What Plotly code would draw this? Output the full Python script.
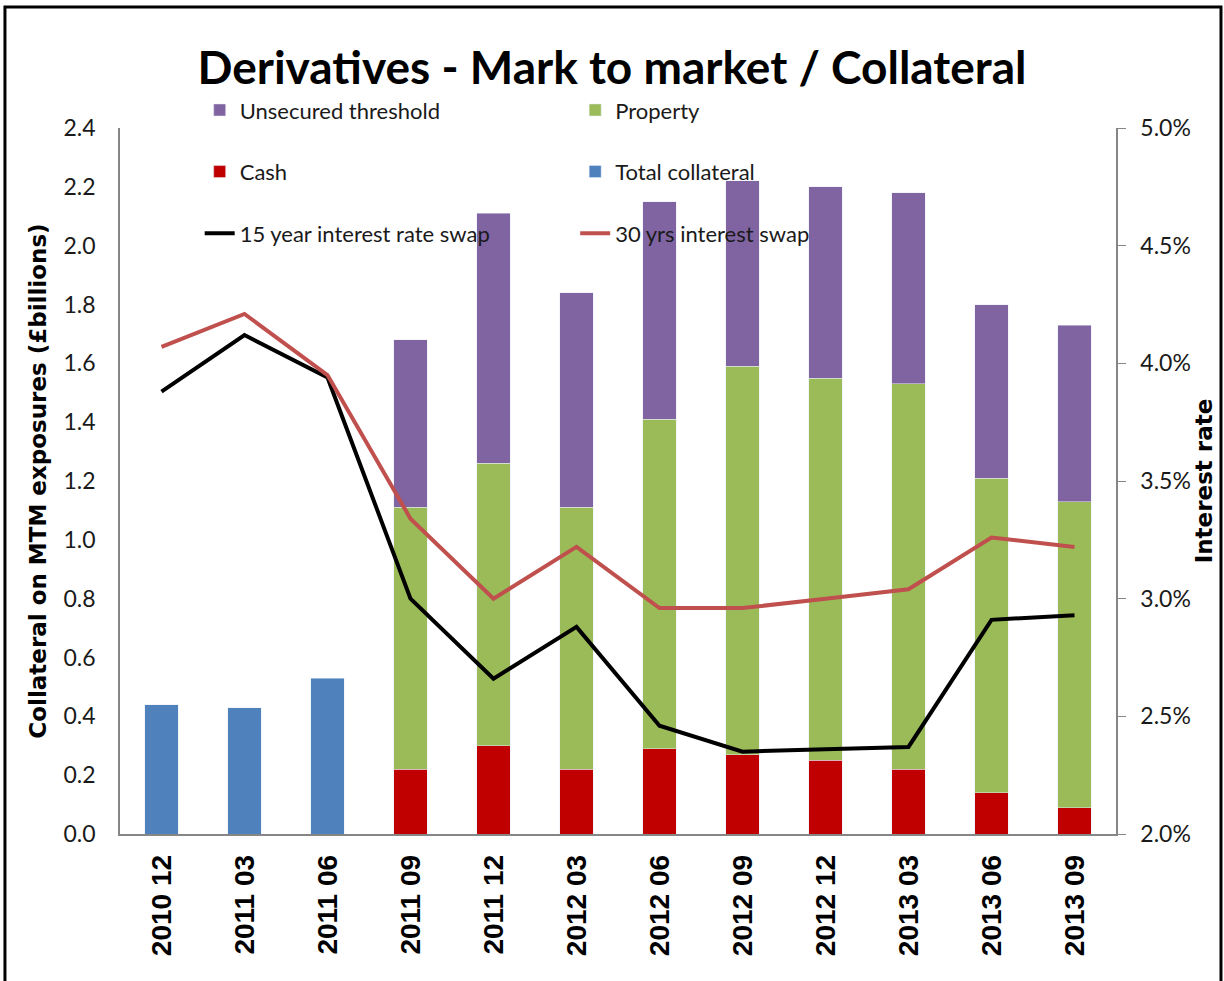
import plotly.graph_objects as go

# Quarter-end reporting dates
quarters = ["2010 12", "2011 03", "2011 06", "2011 09", "2011 12", "2012 03",
            "2012 06", "2012 09", "2012 12", "2013 03", "2013 06", "2013 09"]

# Collateral on MTM exposures (£ billions)
total_collateral = [0.44, 0.43, 0.53, None, None, None, None, None, None, None, None, None]
cash = [None, None, None, 0.22, 0.30, 0.22, 0.29, 0.27, 0.25, 0.22, 0.14, 0.09]
property_ = [None, None, None, 0.89, 0.96, 0.89, 1.12, 1.32, 1.30, 1.31, 1.07, 1.04]
unsecured = [None, None, None, 0.57, 0.85, 0.73, 0.74, 0.63, 0.65, 0.65, 0.59, 0.60]

# Swap rates (%)
swap_15y = [3.88, 4.12, 3.94, 3.00, 2.66, 2.88, 2.46, 2.35, 2.36, 2.37, 2.91, 2.93]
swap_30y = [4.07, 4.21, 3.95, 3.34, 3.00, 3.22, 2.96, 2.96, 3.00, 3.04, 3.26, 3.22]

FONT = "Lato"
TITLE_FONT = "DejaVu Sans"
AXIS_GREY = "#868686"

fig = go.Figure()

# Stacked bars: first trace sits at the bottom of the stack
fig.add_trace(go.Bar(x=quarters, y=total_collateral, name="Total collateral",
                     marker_color="#4F81BD", legend="legend2", legendgroup="tc", legendrank=2))
fig.add_trace(go.Bar(x=quarters, y=cash, name="Cash",
                     marker_color="#C00000", legend="legend", legendgroup="cash", legendrank=2))
fig.add_trace(go.Bar(x=quarters, y=property_, name="Property",
                     marker_color="#9BBB59", legend="legend2", legendgroup="prop", legendrank=1))
fig.add_trace(go.Bar(x=quarters, y=unsecured, name="Unsecured threshold",
                     marker_color="#8064A2", legend="legend", legendgroup="uns", legendrank=1))

# Interest rate lines on the secondary axis
fig.add_trace(go.Scatter(x=quarters, y=swap_15y, name="15 year interest rate swap",
                         mode="lines", line=dict(color="black", width=4),
                         yaxis="y2", legend="legend", legendgroup="s15", legendrank=3))
fig.add_trace(go.Scatter(x=quarters, y=swap_30y, name="30 yrs interest swap",
                         mode="lines", line=dict(color="#C0504D", width=4),
                         yaxis="y2", legend="legend2", legendgroup="s30", legendrank=3))

legend_common = dict(
    orientation="v", traceorder="grouped", tracegroupgap=30,
    font=dict(family=FONT, size=22, color="#1a1a1a"),
    bgcolor="rgba(0,0,0,0)", yanchor="top", xanchor="left",
)

fig.update_layout(
    width=1224, height=981,
    margin=dict(l=120, r=108, t=128, b=147),
    paper_bgcolor="white", plot_bgcolor="white",
    barmode="stack", bargap=0.6,
    font=dict(family=FONT, size=22, color="#1a1a1a"),
    title=dict(text="<b>Derivatives - Mark to market / Collateral</b>",
               x=0.5, xanchor="center", y=0.931, yanchor="middle",
               font=dict(family=FONT, size=46, color="black")),
    legend=dict(x=0.080, y=1.055, **legend_common),
    legend2=dict(x=0.457, y=1.055, **legend_common),
    xaxis=dict(
        type="category", range=[-0.5, 11.5],
        showline=True, linecolor=AXIS_GREY, linewidth=1.5,
        ticks="", tickangle=-90, ticklabelstandoff=8,
        tickfont=dict(family="Liberation Sans", size=28, color="black", weight="bold"),
        showgrid=False,
    ),
    yaxis=dict(
        range=[0, 2.4], dtick=0.2, tickformat=".1f",
        showline=True, linecolor=AXIS_GREY, linewidth=1.5,
        ticks="", ticklabelstandoff=18, showgrid=False, zeroline=False,
        tickfont=dict(family=FONT, size=23, color="#1a1a1a"),
        title=dict(text="<b>Collateral on MTM exposures (£billions)</b>",
                   font=dict(family=TITLE_FONT, size=23, color="black"), standoff=10),
    ),
    yaxis2=dict(
        range=[2.0, 5.0], dtick=0.5, tickformat=".1f", ticksuffix="%",
        overlaying="y", side="right",
        showline=True, linecolor=AXIS_GREY, linewidth=1.5,
        ticks="outside", ticklen=8, tickcolor=AXIS_GREY, ticklabelstandoff=10,
        showgrid=False, zeroline=False,
        tickfont=dict(family=FONT, size=23, color="#1a1a1a"),
        title=dict(text="<b>Interest rate</b>",
                   font=dict(family=TITLE_FONT, size=23, color="black"), standoff=0),
    ),
    shapes=[dict(type="rect", xref="paper", yref="paper",
                 x0=-0.1155, x1=1.1054, y0=-0.3, y1=1.1714,
                 line=dict(color="black", width=3), fillcolor="rgba(0,0,0,0)",
                 layer="below")],
)

fig.write_html("out.html")
